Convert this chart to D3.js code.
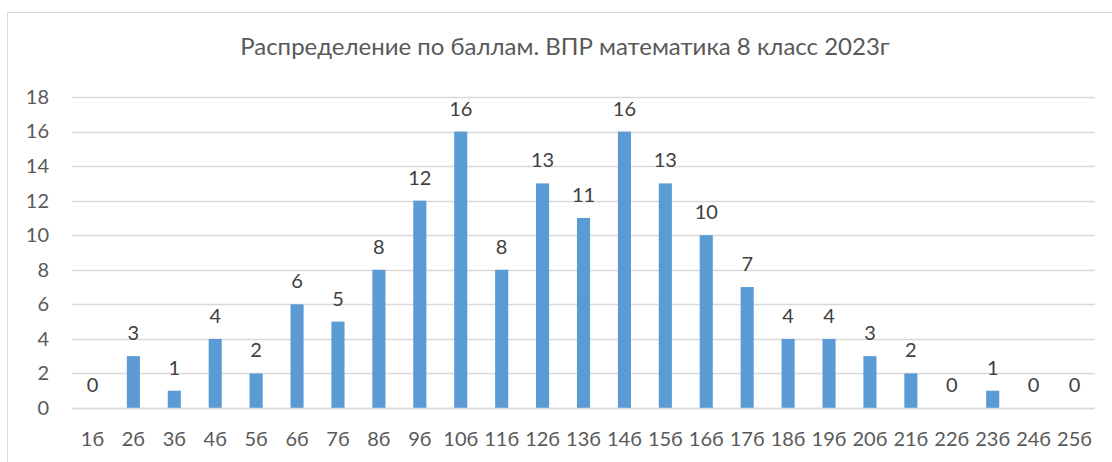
<!DOCTYPE html>
<html><head><meta charset="utf-8">
<script src="https://cdn.jsdelivr.net/npm/d3@7"></script>
<style>html,body{margin:0;padding:0;background:#fff;}svg{display:block;}</style>
</head><body>
<svg id="chart" width="1112" height="462"></svg>
<script>
const categories = ["1б","2б","3б","4б","5б","6б","7б","8б","9б","10б","11б","12б","13б","14б","15б","16б","17б","18б","19б","20б","21б","22б","23б","24б","25б"];
const values = [0,3,1,4,2,6,5,8,12,16,8,13,11,16,13,10,7,4,4,3,2,0,1,0,0];
const yTicks = [0,2,4,6,8,10,12,14,16,18];
const title = "Распределение по баллам. ВПР математика 8 класс 2023г";

(function(){
const svg = d3.select("#chart");
const font = "Lato, 'Open Sans', sans-serif";
svg.append("rect").attr("x",7.5).attr("y",12.5).attr("width",1200).attr("height",500)
  .attr("fill","none").attr("stroke","#D9D9D9").attr("stroke-width",1);

const mLeft = 72, mRight = 1095, mTop = 97, mBottom = 408;
const x = d3.scaleBand().domain(categories).range([mLeft,mRight]).paddingInner(0.68).paddingOuter(0.34);
const y = d3.scaleLinear().domain([0,18]).range([mBottom,mTop]);

svg.append("g").selectAll("line").data(yTicks).join("line")
  .attr("x1",mLeft).attr("x2",mRight)
  .attr("y1",d=>Math.round(y(d))+0.5).attr("y2",d=>Math.round(y(d))+0.5)
  .attr("stroke","#D9D9D9").attr("stroke-width",1.5);

const yAxis = d3.axisLeft(y).tickValues(yTicks).tickSize(0).tickPadding(0);
const gy = svg.append("g").attr("transform",`translate(${49},0)`).call(yAxis);
gy.select(".domain").remove();
gy.selectAll("text").attr("font-family",font).attr("font-size",20).attr("fill","#595959");

svg.append("g").selectAll("rect").data(values).join("rect")
  .attr("x",(d,i)=>x(categories[i])).attr("width",x.bandwidth())
  .attr("y",d=>y(d)).attr("height",d=>y(0)-y(d))
  .attr("fill","#5B9BD5");

svg.append("line").attr("x1",mLeft).attr("x2",mRight).attr("y1",Math.round(y(0))+0.5).attr("y2",Math.round(y(0))+0.5)
  .attr("stroke","#D9D9D9").attr("stroke-width",1.5);

svg.append("g").selectAll("text").data(values).join("text")
  .attr("x",(d,i)=>x(categories[i])+x.bandwidth()/2)
  .attr("y",d=>y(d)-16)
  .attr("text-anchor","middle").attr("font-family",font).attr("font-size",20).attr("fill","#404040")
  .text(d=>d);

const xAxis = d3.axisBottom(x).tickSize(0).tickPadding(0);
const gx = svg.append("g").attr("transform",`translate(0,${mBottom+24})`).call(xAxis);
gx.select(".domain").remove();
gx.selectAll("text").attr("font-family",font).attr("font-size",20).attr("fill","#595959");

svg.append("text").attr("x",565).attr("y",55).attr("text-anchor","middle")
  .attr("font-family",font).attr("font-size",24).attr("fill","#595959").text(title);
})();
</script>
</body></html>
